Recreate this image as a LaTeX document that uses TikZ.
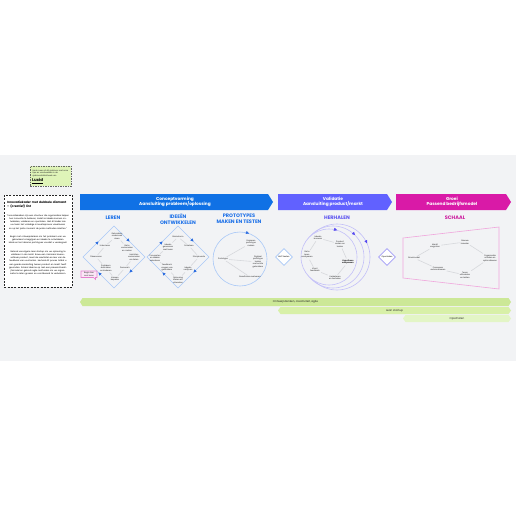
\documentclass[tikz,border=0pt]{standalone}
\usepackage{fontspec}
\setmainfont{Poppins}
\usetikzlibrary{shapes.geometric,decorations.markings,arrows.meta}
\definecolor{bggray}{HTML}{F2F3F5}
\definecolor{bannerblue}{HTML}{1071E5}
\definecolor{bannerpurple}{HTML}{6161FF}
\definecolor{bannermag}{HTML}{D91AA7}
\definecolor{hdblue}{HTML}{1A6FE8}
\definecolor{hdpurple}{HTML}{5B52F0}
\definecolor{hdmag}{HTML}{CC1B9E}
\definecolor{dmblue}{HTML}{A9C8F7}
\definecolor{arblue}{HTML}{2A6BE0}
\definecolor{arpurple}{HTML}{5548F0}
\definecolor{lav}{HTML}{C3C0F8}
\definecolor{pinkline}{HTML}{F0A6DC}
\definecolor{linegray}{HTML}{D6D8DC}
\definecolor{barA}{HTML}{CCE897}
\definecolor{barB}{HTML}{D8F0A8}
\definecolor{barC}{HTML}{E3F5C6}
\definecolor{notegreen}{HTML}{DFF4B8}
\definecolor{notepink}{HTML}{FBE6F6}
\definecolor{notepinkline}{HTML}{E77FCF}
\tikzset{
  lbl/.style={font=\fontsize{2}{2.5}\selectfont, align=center, inner sep=0.4pt, text=black!85},
  link/.style={draw=linegray, line width=0.6pt, shorten >=0.8pt, shorten <=0.8pt},
  hdr/.style={font=\fontsize{5}{6}\selectfont\bfseries, align=center, inner sep=0pt},
  bantext/.style={font=\fontsize{4.3}{5.6}\selectfont\bfseries, align=center, text=white, inner sep=0pt},
  bartext/.style={font=\fontsize{2.7}{3}\selectfont, inner sep=0pt, text=black!85},
  dmline/.style={draw=dmblue, line width=0.6pt},
  diamarrows/.style={postaction={decorate}, decoration={markings,
     mark=at position 0.125 with {\arrow[arblue]{Triangle[length=3pt,width=3pt]}},
     mark=at position 0.375 with {\arrow[arblue]{Triangle[length=3pt,width=3pt]}},
     mark=at position 0.625 with {\arrow[arblue]{Triangle[length=3pt,width=3pt]}},
     mark=at position 0.875 with {\arrow[arblue]{Triangle[length=3pt,width=3pt]}}}},
  arrblue/.style={draw=dmblue, line width=0.4pt, -{Triangle[length=3pt,width=3pt,color=arblue]}},
  arrpurple/.style={draw=lav, line width=0.4pt, -{Triangle[length=3pt,width=3pt,color=arpurple]}},
  smalldiam/.style={shape=diamond, draw, line width=0.8pt, fill=white, minimum width=17pt, minimum height=17pt, inner sep=0pt, font=\fontsize{2}{2.5}\selectfont},
}
\begin{document}
\begin{tikzpicture}[x=1pt,y=-1pt]
\useasboundingbox (0,0) rectangle (516,516);
\fill[white] (0,0) rectangle (516,516);
\fill[bggray] (0,155) rectangle (516,361);

% Lucid note
\node[draw=black!60, dashed, dash pattern=on 1.5pt off 1pt, line width=0.5pt, fill=notegreen, minimum width=41pt, minimum height=20pt, anchor=north west, inner sep=0pt] (lucidnote) at (30,166) {};
\node[lbl, align=left, anchor=north west] (lucidtxt) at (32,169) {Haal meer uit dit sjabloon met onze\\tips en voorbeelden in de\\sjabloonbibliotheek van};
\node[font=\fontsize{4}{4}\selectfont\bfseries, anchor=north west, inner sep=0pt] (lucidlogo) at (32,178.5) {\underline{Lucid}};

% Left panel
\node[draw=black!85, dashed, dash pattern=on 2pt off 1.3pt, line width=0.7pt, fill=white, minimum width=68pt, minimum height=92pt, anchor=north west, inner sep=0pt] (panel) at (4,195) {};
\node[anchor=north west, text width=62pt, align=left, inner sep=0pt, font=\fontsize{3}{4}\selectfont\bfseries] (ptitle) at (7,201) {Innovatiekader met dubbele diamant -- (creatief) lint};
\node[anchor=north, text width=63pt, align=center, inner sep=0pt, font=\fontsize{2.1}{3.2}\selectfont] (para1) at (38,214.5) {\textquotedblleft Innovatiekaders zijn een structuur die organisaties helpen hun innovatie te beheren, zodat ze ideeën kunnen ontwikkelen, valideren en opschalen. Met dit kader kan uw team het volledige innovatieproces visualiseren en op het juiste moment de juiste methoden inzetten.\textquotedblright};
\node[anchor=north, text width=63pt, align=center, inner sep=0pt, font=\fontsize{2.1}{3.2}\selectfont] (para2) at (38,235.5) {Begin met ontwerpdenken om het probleem van uw gebruikers te begrijpen en ideeën te ontwikkelen. Maak en test daarna prototypes voordat u verdergaat.};
\node[anchor=north, text width=63pt, align=center, inner sep=0pt, font=\fontsize{2.1}{3.2}\selectfont] (para3) at (38,250.5) {Gebruik vervolgens lean startup om uw oplossing te valideren in de markt. Bouw een minimaal levensvatbaar product, meet de resultaten en leer van de feedback van uw klanten. Herhaal dit proces totdat u een goede aansluiting tussen product en markt heeft gevonden. Schaal daarna op met een passend bedrijfsmodel en gebruik agile methoden om uw organisatie te laten groeien en voortdurend te verbeteren.};

% Banners
\fill[bannerblue] (80,194) -- (268,194) -- (273,202) -- (268,210) -- (80,210) -- cycle;
\node[bantext] (ban1) at (175,202) {Conceptvorming\\Aansluiting probleem/oplossing};
\fill[bannerpurple] (278,194) -- (387,194) -- (392,202) -- (387,210) -- (278,210) -- cycle;
\node[bantext] (ban2) at (333,202) {Validatie\\Aansluiting product/markt};
\fill[bannermag] (396,194) -- (506,194) -- (511,202) -- (506,210) -- (396,210) -- cycle;
\node[bantext] (ban3) at (452,202) {Groei\\Passend bedrijfsmodel};

% Headers
\node[hdr, text=hdblue] (h1) at (113,218) {LEREN};
\node[hdr, text=hdblue] (h2) at (178,219) {IDEEËN\\ONTWIKKELEN};
\node[hdr, text=hdblue] (h3) at (239,219) {PROTOTYPES\\MAKEN EN TESTEN};
\node[hdr, text=hdpurple] (h4) at (337,218) {HERHALEN};
\node[hdr, text=hdmag] (h5) at (455,218) {SCHAAL};

% Diamond 1: Leren
\draw[dmline, diamarrows] (83,257) -- (114,226) -- (145,257) -- (114,288) -- cycle;
\node[lbl] (a1) at (117,236) {Gebruikers\\onderzoek\\doen};
\node[lbl] (a2) at (105,246) {Interviews};
\node[lbl] (a3) at (127,248) {Data\\verzamelen\\en meten};
\node[lbl] (a4) at (96,257) {Observeren};
\node[lbl] (a5) at (134,257) {Inzichten\\verzamelen\\en delen};
\node[lbl] (a6) at (106,268) {Probleem\\definiëren\\en kaderen};
\node[lbl] (a7) at (125,268) {Persona's};
\node[lbl] (a8) at (115,279) {Kansen\\bepalen};
\draw[link] (a1) -- (a3); \draw[link] (a3) -- (a5); \draw[link] (a5) -- (a7);
\draw[link] (a7) -- (a8); \draw[link] (a8) -- (a6); \draw[link] (a6) -- (a4);
\draw[link] (a4) -- (a2); \draw[link] (a2) -- (a1);
% pink note
\fill[notepink, draw=notepinkline, line width=0.6pt] (81,271) -- (97,271) -- (97,277.5) -- (95.5,277.5) -- (95.5,279.5) -- (93.5,277.5) -- (81,277.5) -- cycle;
\node[lbl] (pnote) at (89,274.2) {Begin hier\\met leren};

% Diamond 2: Ideeen
\draw[dmline, diamarrows] (147,257) -- (178,226) -- (209,257) -- (178,288) -- cycle;
\node[lbl] (b1) at (178,237) {Brainstorm};
\node[lbl] (b2) at (168,247) {Ideeën\\genereren\\met team};
\node[lbl] (b3) at (189,246) {Schetsen};
\node[lbl] (b4) at (155,258) {Concepten\\en ideeën\\selecteren};
\node[lbl] (b5) at (199,257) {Storyboards};
\node[lbl] (b6) at (167,268) {Feedback\\vragen van\\gebruikers};
\node[lbl] (b7) at (188,269) {Ideeën\\verfijnen};
\node[lbl] (b8) at (178,280) {Oplossing\\kiezen en\\uitwerken};
\draw[link] (b1) -- (b3); \draw[link] (b3) -- (b5); \draw[link] (b5) -- (b7);
\draw[link] (b7) -- (b8); \draw[link] (b8) -- (b6); \draw[link] (b6) -- (b4);
\draw[link] (b4) -- (b2); \draw[link] (b2) -- (b1);

% Circle: Prototypes
\draw[dmline] (240,259) circle (27);
\coordinate (cat1) at (247.1,232.8);
\coordinate (cat2) at (249,233.5);
\draw[arrblue] (cat1) -- (cat2);
\node[lbl] (c1) at (223,259) {Prototype};
\node[lbl] (c2) at (251,243) {Papieren\\prototype\\maken};
\node[lbl] (c3) at (258,262) {Digitaal\\prototype\\testen\\met echte\\gebruikers};
\node[lbl] (c4) at (250,277) {Resultaten evalueren};
\draw[link] (c1) -- (c2); \draw[link] (c1) -- (c3); \draw[link] (c1) -- (c4);

% Small diamond 1
\node[smalldiam, draw=dmblue] (sd1) at (284,257) {MVP testen};

% Herhalen circles
\draw[draw=lav, line width=0.6pt] (337,257) circle (33);
\draw[draw=lav, line width=0.6pt] (333,257) circle (31);
\draw[draw=lav, line width=0.6pt, fill=bggray] (329,257) circle (28);
\coordinate (hat1) at (335.1,229.6); \coordinate (hat2) at (337,230.2);
\coordinate (hat3) at (353.6,233.6); \coordinate (hat4) at (355,235);
\coordinate (hat5) at (366.2,241.5); \coordinate (hat6) at (367,243.3);
\draw[arrpurple] (hat1) -- (hat2);
\draw[arrpurple] (hat3) -- (hat4);
\draw[arrpurple] (hat5) -- (hat6);
\node[lbl] (r1) at (318,238) {Ideeën\\bouwen};
\node[lbl] (r2) at (340,244) {Product\\meten en\\testen};
\node[lbl] (r3) at (307,255) {Data\\leren\\analyseren};
\node[lbl, font=\fontsize{2}{2.5}\selectfont\bfseries] (r4) at (348,262) {Hypothese\\aanpassen};
\node[lbl] (r5) at (315,270) {Klant\\feedback};
\node[lbl] (r6) at (335,278) {Verbeteren\\en herhalen};
\draw[link] (r1) -- (r2); \draw[link] (r2) -- (r4); \draw[link] (r4) -- (r6);
\draw[link] (r6) -- (r5); \draw[link] (r5) -- (r3); \draw[link] (r3) -- (r1);

% Small diamond 2
\node[smalldiam, draw=lav!70!arpurple] (sd2) at (387,257) {Opschalen};

% Schaal trapezoid
\draw[draw=pinkline, line width=0.6pt] (403,238) -- (499,227) -- (499,289) -- (403,278) -- cycle;
\node[lbl] (s1) at (414,258) {Groeimodel};
\node[lbl] (s2) at (435,246) {Markt\\vergroten};
\node[lbl] (s3) at (465,242) {Nieuwe\\kanalen};
\node[lbl] (s4) at (490,258) {Organisatie\\schalen en\\optimaliseren};
\node[lbl] (s5) at (438,269) {Processen\\automatiseren};
\node[lbl] (s6) at (465,275) {Team\\uitbreiden\\en leiden};
\draw[link] (s1) -- (s2); \draw[link] (s2) -- (s3); \draw[link] (s3) -- (s4);
\draw[link] (s1) -- (s5); \draw[link] (s5) -- (s6); \draw[link] (s6) -- (s4);

% Bottom bars
\fill[barA] (80,302) -- (82.5,298) -- (508.5,298) -- (511,302) -- (508.5,306) -- (82.5,306) -- cycle;
\node[bartext] (bar1) at (295.5,302) {Ontwerpdenken, creativiteit, agile};
\fill[barB] (278,310.5) -- (280.5,307) -- (508.5,307) -- (511,310.5) -- (508.5,314) -- (280.5,314) -- cycle;
\node[bartext] (bar2) at (394.5,310.5) {Lean startup};
\fill[barC] (403,318.5) -- (405.5,315) -- (508.5,315) -- (511,318.5) -- (508.5,322) -- (405.5,322) -- cycle;
\node[bartext] (bar3) at (457,318.5) {Opschalen};
\end{tikzpicture}
\end{document}
